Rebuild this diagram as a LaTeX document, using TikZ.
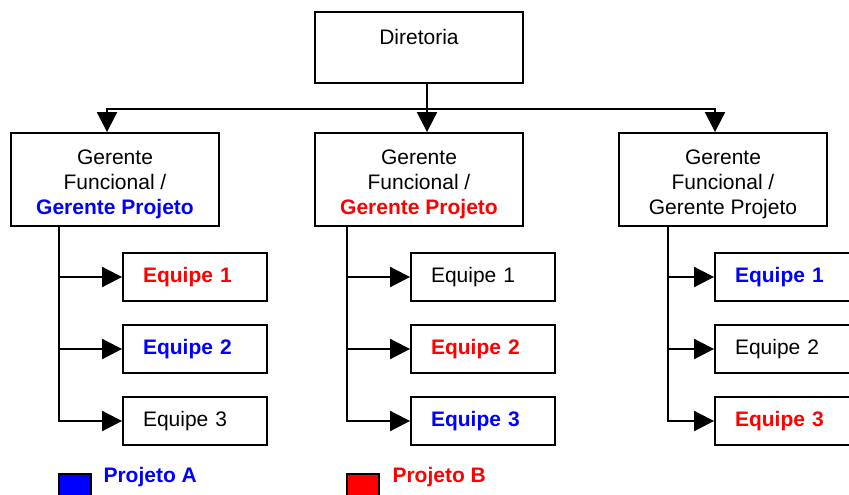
\documentclass[tikz,border=0pt]{standalone}
\usepackage{fontspec}
\setmainfont{Liberation Sans}
\usepackage{xcolor}
\usetikzlibrary{arrows.meta,positioning,calc}
\definecolor{projA}{RGB}{0,0,255}
\definecolor{projB}{RGB}{255,0,0}

\begin{document}
\begin{tikzpicture}[x=1pt,y=-1pt,
    every node/.style={font=\fontsize{21}{25}\selectfont},
    box/.style={draw, line width=1.8pt, rectangle, inner sep=0pt, align=center},
    chefe/.style={box, minimum width=208pt, minimum height=93pt},
    equipe/.style={draw, line width=1.8pt, minimum height=48pt, inner xsep=20pt, inner ysep=0pt, text width=104pt, align=left},
    seta/.style={line width=1.8pt, -{Triangle[length=20pt,width=20pt]}},
    liga/.style={line width=1.8pt},
    pa/.style={text=projA, font=\fontsize{21}{25}\selectfont\bfseries},
    pb/.style={text=projB, font=\fontsize{21}{25}\selectfont\bfseries},
    legenda/.style={draw, line width=1.2pt, minimum size=32pt, inner sep=0pt}]
    \useasboundingbox (0,0) rectangle (849,495);
    \clip (0,0) rectangle (849,495);

    % Diretoria
    \node[box, minimum width=208pt, minimum height=71pt] (dir) at (419,47.5) {\rule{0pt}{19pt}Diretoria\\ ~};

    % Gerentes
    \node[chefe] (ger1) at (115,179.5) {\rule{0pt}{25pt}Gerente\\Funcional /\\{\color{projA}\bfseries Gerente Projeto}};
    \node[chefe] (ger2) at (419,179.5) {\rule{0pt}{25pt}Gerente\\Funcional /\\{\color{projB}\bfseries Gerente Projeto}};
    \node[chefe] (ger3) at (723,179.5) {\rule{0pt}{25pt}Gerente\\Funcional /\\Gerente Projeto};

    % Equipes
    \node[equipe, pb] (eq11) at (195,277) {Equipe 1};
    \node[equipe, pa] (eq12) at (195,349) {Equipe 2};
    \node[equipe] (eq13) at (195,421) {Equipe 3};

    \node[equipe] (eq21) at (483,277) {Equipe 1};
    \node[equipe, pb] (eq22) at (483,349) {Equipe 2};
    \node[equipe, pa] (eq23) at (483,421) {Equipe 3};

    \node[equipe, pa] (eq31) at (787,277) {Equipe 1};
    \node[equipe] (eq32) at (787,349) {Equipe 2};
    \node[equipe, pb] (eq33) at (787,421) {Equipe 3};

    % Diretoria -> gerentes
    \draw[liga] ([xshift=8pt]dir.south) -- ++(0,25) coordinate (barra);
    \draw[seta] (barra) -- ([xshift=8pt]ger2.north);
    \draw[seta] (barra) -| ([xshift=-8pt]ger1.north);
    \draw[seta] (barra) -| ([xshift=-8pt]ger3.north);

    % gerentes -> equipes
    \draw[seta] ([xshift=-56pt]ger1.south) |- (eq11.west);
    \draw[seta] ([xshift=-56pt]ger1.south) |- (eq12.west);
    \draw[seta] ([xshift=-56pt]ger1.south) |- (eq13.west);

    \draw[seta] ([xshift=-72pt]ger2.south) |- (eq21.west);
    \draw[seta] ([xshift=-72pt]ger2.south) |- (eq22.west);
    \draw[seta] ([xshift=-72pt]ger2.south) |- (eq23.west);

    \draw[seta] ([xshift=-55pt]ger3.south) |- (eq31.west);
    \draw[seta] ([xshift=-55pt]ger3.south) |- (eq32.west);
    \draw[seta] ([xshift=-55pt]ger3.south) |- (eq33.west);

    % Legenda
    \node[legenda, fill=projA] (legA) at (75,490) {};
    \node[pa, anchor=base west] (txtA) at (100,482) {Projeto A};
    \node[legenda, fill=projB] (legB) at (363,490) {};
    \node[pb, anchor=base west] (txtB) at (389,482) {Projeto B};
\end{tikzpicture}
\end{document}
